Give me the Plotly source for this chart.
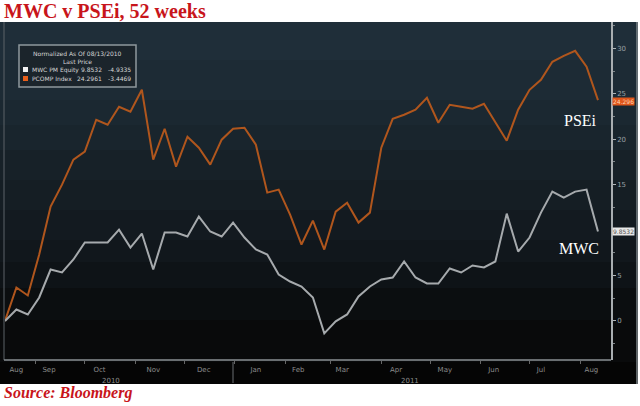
import pandas as pd
import plotly.graph_objects as go

# ---- data ----
start_date = "2010-08-13"
n_weeks = 53
psei = [0.0, 3.68, 2.80, 7.31, 12.58, 15.0, 17.75, 18.63, 22.14, 21.59,
        23.57, 23.02, 25.44, 17.75, 21.15, 16.98, 20.27, 19.07, 17.2, 19.95,
        21.15, 21.26, 19.4, 14.12, 14.45, 11.7, 8.41, 11.04, 7.86, 12.03,
        13.02, 10.82, 11.92, 19.07, 22.25, 22.69, 23.24, 24.56, 21.81, 23.79,
        23.57, 23.35, 23.9, 21.92, 19.84, 23.24, 25.44, 26.54, 28.52, 29.18,
        29.73, 27.97, 24.30]
mwc = [0.0, 1.26, 0.71, 2.58, 5.66, 5.33, 6.76, 8.63, 8.63, 8.63,
       10.05, 8.08, 9.62, 5.66, 9.73, 9.73, 9.29, 11.48, 9.84, 9.29,
       10.82, 9.18, 7.86, 7.31, 5.11, 4.34, 3.79, 2.58, -1.37, -0.05,
       0.71, 2.69, 3.79, 4.56, 4.78, 6.54, 4.78, 4.12, 4.12, 5.77,
       5.33, 6.1, 5.88, 6.54, 11.81, 7.64, 9.18, 11.92, 14.23, 13.57,
       14.23, 14.45, 9.85]
y_ticks = [0, 5, 10, 15, 20, 25, 30]
y_tick_text = ["0", "5", "", "15", "20", "25", "30"]  # "10" hidden under the MWC tag
month_label_dates = ["2010-08-20", "2010-09-09", "2010-10-10", "2010-11-12",
                     "2010-12-13", "2011-01-14", "2011-02-09", "2011-03-08",
                     "2011-04-10", "2011-05-10", "2011-06-09", "2011-07-08",
                     "2011-08-08"]
month_labels = ["Aug", "Sep", "Oct", "Nov", "Dec", "Jan", "Feb", "Mar",
                "Apr", "May", "Jun", "Jul", "Aug"]
psei_tag = "24.296"
mwc_tag = "9.8532"
legend_lines = ["Normalized As Of 08/13/2010", "Last Price"]
legend_rows = [("MWC PM Equity", "9.8532", "-4.9335"),
               ("PCOMP Index", "24.2961", "-3.4469")]
years = ["2010", "2011"]

dates = pd.date_range(start_date, periods=n_weeks, freq="7D")

W, H = 640, 406
ML, MR, MT, MB = 5, 29, 22, 46
PW, PH = W - ML - MR, H - MT - MB


def px2x(px):
    return (px - ML) / PW


def px2y(py):
    return (H - MB - py) / PH


fig = go.Figure()
fig.add_trace(go.Scatter(x=dates, y=psei, mode="lines", name="PSEi",
                         line=dict(color="#b0561d", width=2.0)))
fig.add_trace(go.Scatter(x=dates, y=mwc, mode="lines", name="MWC",
                         line=dict(color="#a6aaad", width=2.0)))

shapes = []
# background bands (dark gradient panel)
bands = [(22, 60, "#1f2e39"), (60, 100, "#1d2b35"), (100, 125, "#1b2831"),
         (125, 150, "#19252d"), (150, 180, "#172128"), (180, 210, "#151e24"),
         (210, 240, "#131a20"), (240, 262, "#11171c"), (262, 288, "#0e1317"),
         (288, 320, "#0b0e10"), (320, 362, "#090a0b"), (362, 384, "#050505")]
for y0, y1, c in bands:
    shapes.append(dict(type="rect", xref="paper", yref="paper",
                       x0=px2x(0), x1=px2x(638), y0=px2y(y1), y1=px2y(y0),
                       fillcolor=c, line=dict(width=0), layer="below"))
# panel borders
shapes.append(dict(type="line", xref="paper", yref="paper",
                   x0=px2x(4), x1=px2x(4), y0=px2y(360), y1=px2y(22),
                   line=dict(color="#5c6368", width=1)))
shapes.append(dict(type="line", xref="paper", yref="paper",
                   x0=px2x(4), x1=px2x(611), y0=px2y(360), y1=px2y(360),
                   line=dict(color="#8a9094", width=1.5)))
shapes.append(dict(type="line", xref="paper", yref="paper",
                   x0=px2x(637), x1=px2x(637), y0=px2y(384), y1=px2y(22),
                   line=dict(color="#7c8489", width=1.5)))
shapes.append(dict(type="line", xref="paper", yref="paper",
                   x0=px2x(233), x1=px2x(233), y0=px2y(383), y1=px2y(362),
                   line=dict(color="#6a6f72", width=1)))
# legend box
shapes.append(dict(type="rect", xref="paper", yref="paper",
                   x0=px2x(19), x1=px2x(136), y0=px2y(87), y1=px2y(45),
                   fillcolor="#1b242b", line=dict(color="#8e989d", width=1.5)))
shapes.append(dict(type="rect", xref="paper", yref="paper",
                   x0=px2x(23), x1=px2x(28), y0=px2y(72), y1=px2y(67),
                   fillcolor="#f2f2f2", line=dict(width=0)))
shapes.append(dict(type="rect", xref="paper", yref="paper",
                   x0=px2x(23), x1=px2x(28), y0=px2y(81), y1=px2y(76),
                   fillcolor="#e8601c", line=dict(width=0)))

ann = []
ann.append(dict(text="<b>MWC v PSEi, 52 weeks</b>", xref="paper", yref="paper",
                x=px2x(2), y=px2y(11), xanchor="left", yanchor="middle",
                showarrow=False,
                font=dict(family="Liberation Serif", size=20, color="#c8151b")))
ann.append(dict(text="<b><i>Source: Bloomberg</i></b>", xref="paper", yref="paper",
                x=px2x(2), y=px2y(393), xanchor="left", yanchor="middle",
                showarrow=False,
                font=dict(family="Liberation Serif", size=16, color="#c8151b")))
ann.append(dict(text="PSEi", xref="paper", yref="paper", x=px2x(580), y=px2y(120),
                xanchor="center", yanchor="middle", showarrow=False,
                font=dict(family="Liberation Serif", size=16, color="#ffffff")))
ann.append(dict(text="MWC", xref="paper", yref="paper", x=px2x(579), y=px2y(248),
                xanchor="center", yanchor="middle", showarrow=False,
                font=dict(family="Liberation Serif", size=16, color="#ffffff")))
for i, t in enumerate(legend_lines):
    ann.append(dict(text=t, xref="paper", yref="paper", x=px2x(77), y=px2y(53 + 8 * i),
                    xanchor="center", yanchor="middle", showarrow=False,
                    font=dict(family="DejaVu Sans", size=6, color="#d6d6d6")))
for i, (nm, v1, v2) in enumerate(legend_rows):
    yy = px2y(69.5 + 9 * i)
    ann.append(dict(text=nm, xref="paper", yref="paper", x=px2x(30), y=yy,
                    xanchor="left", yanchor="middle", showarrow=False,
                    font=dict(family="DejaVu Sans", size=6, color="#d6d6d6")))
    ann.append(dict(text=v1, xref="paper", yref="paper", x=px2x(104), y=yy,
                    xanchor="right", yanchor="middle", showarrow=False,
                    font=dict(family="DejaVu Sans", size=6, color="#d6d6d6")))
    ann.append(dict(text=v2, xref="paper", yref="paper", x=px2x(133), y=yy,
                    xanchor="right", yanchor="middle", showarrow=False,
                    font=dict(family="DejaVu Sans", size=6, color="#d6d6d6")))
# last value tags
ann.append(dict(text=psei_tag, xref="paper", yref="y", x=px2x(612), y=psei[-1],
                xanchor="left", yanchor="middle", showarrow=False, yshift=-1,
                bgcolor="#e0561a", borderpad=0,
                font=dict(family="DejaVu Sans", size=6, color="#ffd2b0")))
ann.append(dict(text=mwc_tag, xref="paper", yref="y", x=px2x(612), y=mwc[-1],
                xanchor="left", yanchor="middle", showarrow=False,
                bgcolor="#e8e8e8", borderpad=0,
                font=dict(family="DejaVu Sans", size=6, color="#555555")))
# year labels
for yr, px in zip(years, [111, 410]):
    ann.append(dict(text=yr, xref="paper", yref="paper", x=px2x(px), y=px2y(381),
                    xanchor="center", yanchor="middle", showarrow=False,
                    font=dict(family="DejaVu Sans", size=7, color="#8c8c8c")))

fig.update_layout(
    width=W, height=H,
    margin=dict(l=ML, r=MR, t=MT, b=MB),
    paper_bgcolor="#ffffff",
    plot_bgcolor="rgba(0,0,0,0)",
    showlegend=False,
    shapes=shapes,
    annotations=ann,
    xaxis=dict(type="date", range=[dates[0], pd.Timestamp("2011-08-20")],
               tickvals=month_label_dates, ticktext=month_labels,
               ticks="", ticklabelstandoff=4,
               minor=dict(dtick="M1", tick0="2010-08-01", ticks="outside",
                          ticklen=3, tickcolor="#666666"),
               tickfont=dict(family="DejaVu Sans", size=7, color="#8c8c8c"),
               showgrid=False, zeroline=False, showline=False),
    yaxis=dict(side="right", range=[-4.3, 32.9], tickvals=y_ticks,
               ticktext=y_tick_text,
               ticks="outside", ticklen=3, tickcolor="#b0b5b8",
               tickfont=dict(family="DejaVu Sans", size=7, color="#9aa0a4"),
               minor=dict(dtick=2.5, ticks="outside", ticklen=2, tickcolor="#7d8488"),
               showline=True, linecolor="#a9aeb1", linewidth=1.5,
               showgrid=False, zeroline=False),
)

fig.write_html("out.html", config={"displayModeBar": False},
               post_script="document.body.style.margin='0px';")
